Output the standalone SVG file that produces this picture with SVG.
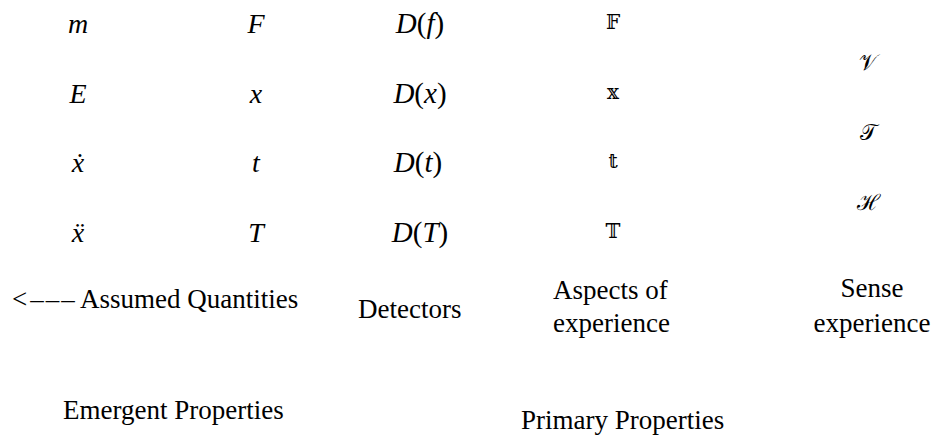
<svg xmlns="http://www.w3.org/2000/svg" width="935" height="437" viewBox="0 0 935 437">
<rect width="935" height="437" fill="#fff"/>
<g id="labels">
<text font-family="Liberation Serif" font-size="27" x="12" y="308">&lt;<tspan dx="3">–</tspan><tspan dx="2">–</tspan><tspan dx="2">–</tspan> Assumed Quantities</text>
<text font-family="Liberation Serif" font-size="27" x="358" y="318">Detectors</text>
<text font-family="Liberation Serif" font-size="27" x="553" y="299">Aspects of</text>
<text font-family="Liberation Serif" font-size="27" x="553" y="332">experience</text>
<text font-family="Liberation Serif" font-size="27" x="872" y="297" text-anchor="middle">Sense</text>
<text font-family="Liberation Serif" font-size="27" x="872" y="332" text-anchor="middle">experience</text>
<text font-family="Liberation Serif" font-size="27" x="63" y="419">Emergent Properties</text>
<text font-family="Liberation Serif" font-size="27" x="521" y="429">Primary Properties</text>
</g>
<g id="math">
<text font-family="Liberation Serif" font-size="28" text-anchor="middle" x="78" y="33"><tspan font-style="italic">m</tspan></text>
<text font-family="Liberation Serif" font-size="28" text-anchor="middle" x="78" y="103"><tspan font-style="italic">E</tspan></text>
<text font-family="Liberation Serif" font-size="28" text-anchor="middle" x="78" y="172"><tspan font-style="italic">ẋ</tspan></text>
<text font-family="Liberation Serif" font-size="28" text-anchor="middle" x="78" y="242"><tspan font-style="italic">ẍ</tspan></text>
<text font-family="Liberation Serif" font-size="28" text-anchor="middle" x="256" y="33"><tspan font-style="italic">F</tspan></text>
<text font-family="Liberation Serif" font-size="28" text-anchor="middle" x="256" y="103"><tspan font-style="italic">x</tspan></text>
<text font-family="Liberation Serif" font-size="28" text-anchor="middle" x="256" y="172"><tspan font-style="italic">t</tspan></text>
<text font-family="Liberation Serif" font-size="28" text-anchor="middle" x="256" y="242"><tspan font-style="italic">T</tspan></text>
<text font-family="Liberation Serif" font-size="29" text-anchor="middle" x="420" y="33"><tspan font-style="italic">D</tspan>(<tspan font-style="italic">f</tspan>)</text>
<text font-family="Liberation Serif" font-size="29" text-anchor="middle" x="420" y="103"><tspan font-style="italic">D</tspan>(<tspan font-style="italic">x</tspan>)</text>
<text font-family="Liberation Serif" font-size="29" text-anchor="middle" x="418" y="172"><tspan font-style="italic">D</tspan>(<tspan font-style="italic">t</tspan>)</text>
<text font-family="Liberation Serif" font-size="29" text-anchor="middle" x="420" y="242"><tspan font-style="italic">D</tspan>(<tspan font-style="italic">T</tspan>)</text>
</g>
<g id="bb">
<text font-family="DejaVu Serif" font-size="20" text-anchor="middle" x="613" y="29">𝔽</text>
<text font-family="DejaVu Serif" font-size="20" text-anchor="middle" x="613" y="99">𝕩</text>
<text font-family="DejaVu Serif" font-size="20" text-anchor="middle" x="613" y="168">𝕥</text>
<text font-family="DejaVu Serif" font-size="20" text-anchor="middle" x="613" y="238">𝕋</text>
</g>
<g id="cal">
<text font-family="DejaVu Serif" font-size="22" text-anchor="middle" x="868" y="70">𝒱</text>
<text font-family="DejaVu Serif" font-size="22" text-anchor="middle" x="868" y="140">𝒯</text>
<text font-family="DejaVu Serif" font-size="22" text-anchor="middle" x="868" y="210">ℋ</text>
</g>
</svg>
